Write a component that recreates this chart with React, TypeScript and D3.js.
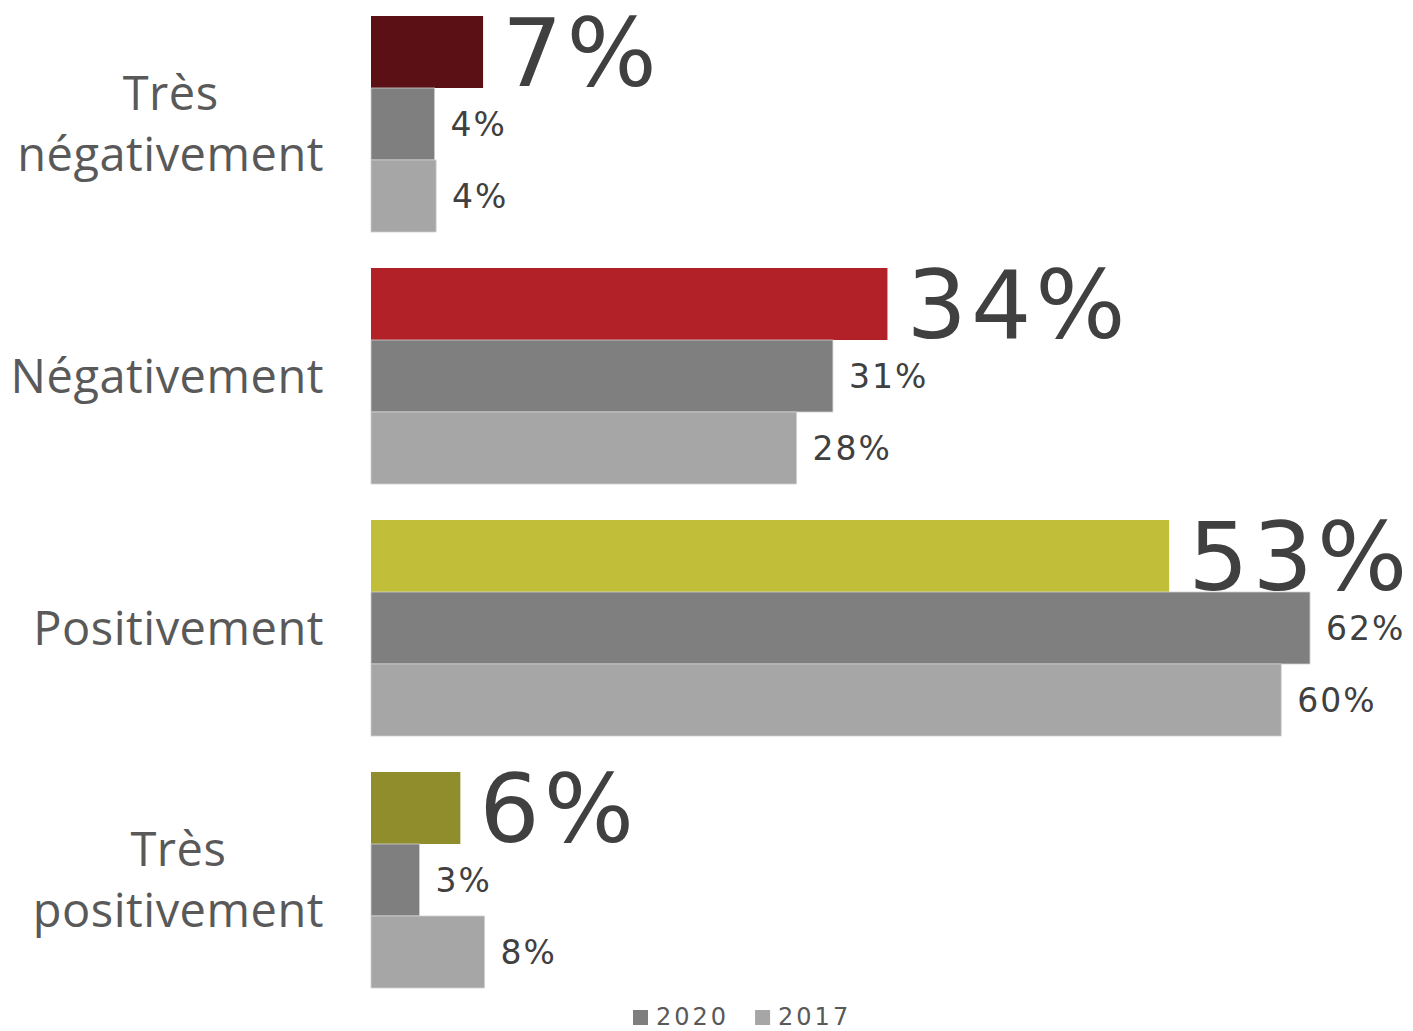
import React, { useEffect, useRef } from "react";
import * as d3 from "d3";

const categories = ["Très\nnégativement", "Négativement", "Positivement", "Très\npositivement"];
const current = [7.4, 34.1, 52.7, 5.9];
const y2020 = [4.2, 30.5, 62.0, 3.2];
const y2017 = [4.3, 28.1, 60.1, 7.5];
const currentColors = ["#5a1015", "#b22028", "#c1be3a", "#8f8d2c"];
const seriesNames = ["2020", "2017"];
const seriesColors = ["#7f7f7f", "#a6a6a6"];

const W = 1413;
const H = 1031;
const FONT = "'DejaVu Sans', sans-serif";
const LABEL_FONT = "'Open Sans', sans-serif";

export default function App() {
  const ref = useRef<SVGSVGElement>(null);

  useEffect(() => {
    const svg = d3.select(ref.current);
    svg.selectAll("*").remove();

    const x = d3.scaleLinear().domain([0, 62]).range([371, 371 + 939]);
    const y = d3
      .scaleBand<number>()
      .domain(categories.map((_, i) => i))
      .range([-2, 1006])
      .paddingInner(1 / 7)
      .paddingOuter(1 / 14);
    const sub = d3.scaleBand<number>().domain([0, 1, 2]).range([0, y.bandwidth()]);

    const rows = categories.map((c, i) => ({
      c,
      i,
      vals: [current[i], y2020[i], y2017[i]],
      colors: [currentColors[i], seriesColors[0], seriesColors[1]],
    }));

    const g = svg.append("g");
    rows.forEach((r) => {
      const gy = y(r.i)!;
      r.vals.forEach((v, k) => {
        const by = gy + sub(k)!;
        g.append("rect")
          .attr("x", x(0))
          .attr("y", by)
          .attr("width", x(v) - x(0))
          .attr("height", sub.bandwidth())
          .attr("fill", r.colors[k])
          .attr("stroke", k === 0 ? "none" : "#d0d0d0")
          .attr("stroke-width", 0.8);
        if (k === 0) {
          g.append("text")
            .attr("x", x(v) + 19)
            .attr("y", by + sub.bandwidth() - 2)
            .attr("font-family", FONT)
            .attr("font-size", 95)
            .attr("letter-spacing", 4)
            .attr("fill", "#404040")
            .text(Math.round(v) + "%");
        } else {
          g.append("text")
            .attr("x", x(v) + 16)
            .attr("y", by + sub.bandwidth() / 2 + 12)
            .attr("font-family", FONT)
            .attr("font-size", 33)
            .attr("letter-spacing", 2)
            .attr("fill", "#404040")
            .text(Math.round(v) + "%");
        }
      });

      // category labels
      const lines = r.c.split("\n");
      const cy = gy + y.bandwidth() / 2;
      const lineH = 61;
      const fs = 47;
      const texts = lines.map((ln, li) =>
        g
          .append("text")
          .attr("y", cy + (li - (lines.length - 1) / 2) * lineH + fs * 0.36)
          .attr("font-family", LABEL_FONT)
          .attr("font-size", fs)
          .attr("letter-spacing", 0.5)
          .attr("fill", "#595959")
          .text(ln)
      );
      const widths = texts.map((t) => (t.node() as SVGTextElement).getComputedTextLength());
      const maxW = Math.max(...widths);
      const center = 324 - maxW / 2;
      texts.forEach((t) => t.attr("x", center).attr("text-anchor", "middle"));
    });

    // legend
    const leg = svg.append("g");
    let lx = 633;
    seriesNames.forEach((n, i) => {
      leg.append("rect").attr("x", lx).attr("y", 1010).attr("width", 15).attr("height", 15).attr("fill", seriesColors[i]);
      const t = leg
        .append("text")
        .attr("x", lx + 23)
        .attr("y", 1025)
        .attr("font-family", FONT)
        .attr("font-size", 24)
        .attr("letter-spacing", 3)
        .attr("fill", "#595959")
        .text(n);
      lx += 23 + (t.node() as SVGTextElement).getComputedTextLength() + 26;
    });
  }, []);

  return (
    <svg
      ref={ref}
      width={W}
      height={H}
      style={{ position: "absolute", left: 0, top: 0, background: "#fff" }}
    />
  );
}
